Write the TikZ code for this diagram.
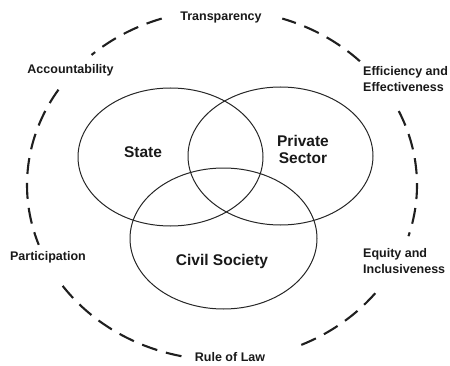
\documentclass[tikz,border=0pt]{standalone}
\usepackage{fontspec}
\setmainfont{Liberation Sans}
\usetikzlibrary{shapes.geometric}
\begin{document}
\begin{tikzpicture}[x=1pt,y=1pt,
  venn/.style={ellipse, draw=black!85, line width=1pt, inner sep=0pt},
  outerdash/.style={draw=black!88, line width=2.1pt, dash pattern=on 16pt off 9pt},
  biglabel/.style={font=\fontsize{15.5}{17}\selectfont\bfseries, text=black!90, align=center, inner sep=0pt},
  smalllabel/.style={font=\fontsize{12.5}{15.5}\selectfont\bfseries, text=black!90, inner sep=0pt}]
\useasboundingbox (0,0) rectangle (450,365);
% outer dashed ring (gaps for the labels)
\coordinate (c) at (222,180);
\foreach \a/\b in {45/72, 108/132, 147/200, 258/213, 294/323, 385/343}{
  \draw[outerdash] (c) ++(\a:195 and 175) arc[start angle=\a, end angle=\b, x radius=195, y radius=175];
}
% Venn ellipses
\node[venn, minimum width=185pt, minimum height=138pt] (state) at (170.5,208) {};
\node[venn, minimum width=185pt, minimum height=138pt] (private) at (280.5,209) {};
\node[venn, minimum width=187pt, minimum height=141pt] (civil) at (223.5,126.5) {};
% inner labels
\node[biglabel] (lstate) at (143,213) {State};
\node[biglabel] (lprivate) at (303,216) {Private\\Sector};
\node[biglabel] (lcivil) at (222,104) {Civil Society};
% outer labels
\node[smalllabel] (transparency) at (221,348) {Transparency};
\node[smalllabel] (accountability) at (70.5,295) {Accountability};
\node[smalllabel, anchor=west, align=left] (efficiency) at (363,286) {Efficiency and\\Effectiveness};
\node[smalllabel] (participation) at (48,108) {Participation};
\node[smalllabel, anchor=west, align=left] (equity) at (363,104) {Equity and\\Inclusiveness};
\node[smalllabel] (rule) at (230,8) {Rule of Law};
\end{tikzpicture}
\end{document}
